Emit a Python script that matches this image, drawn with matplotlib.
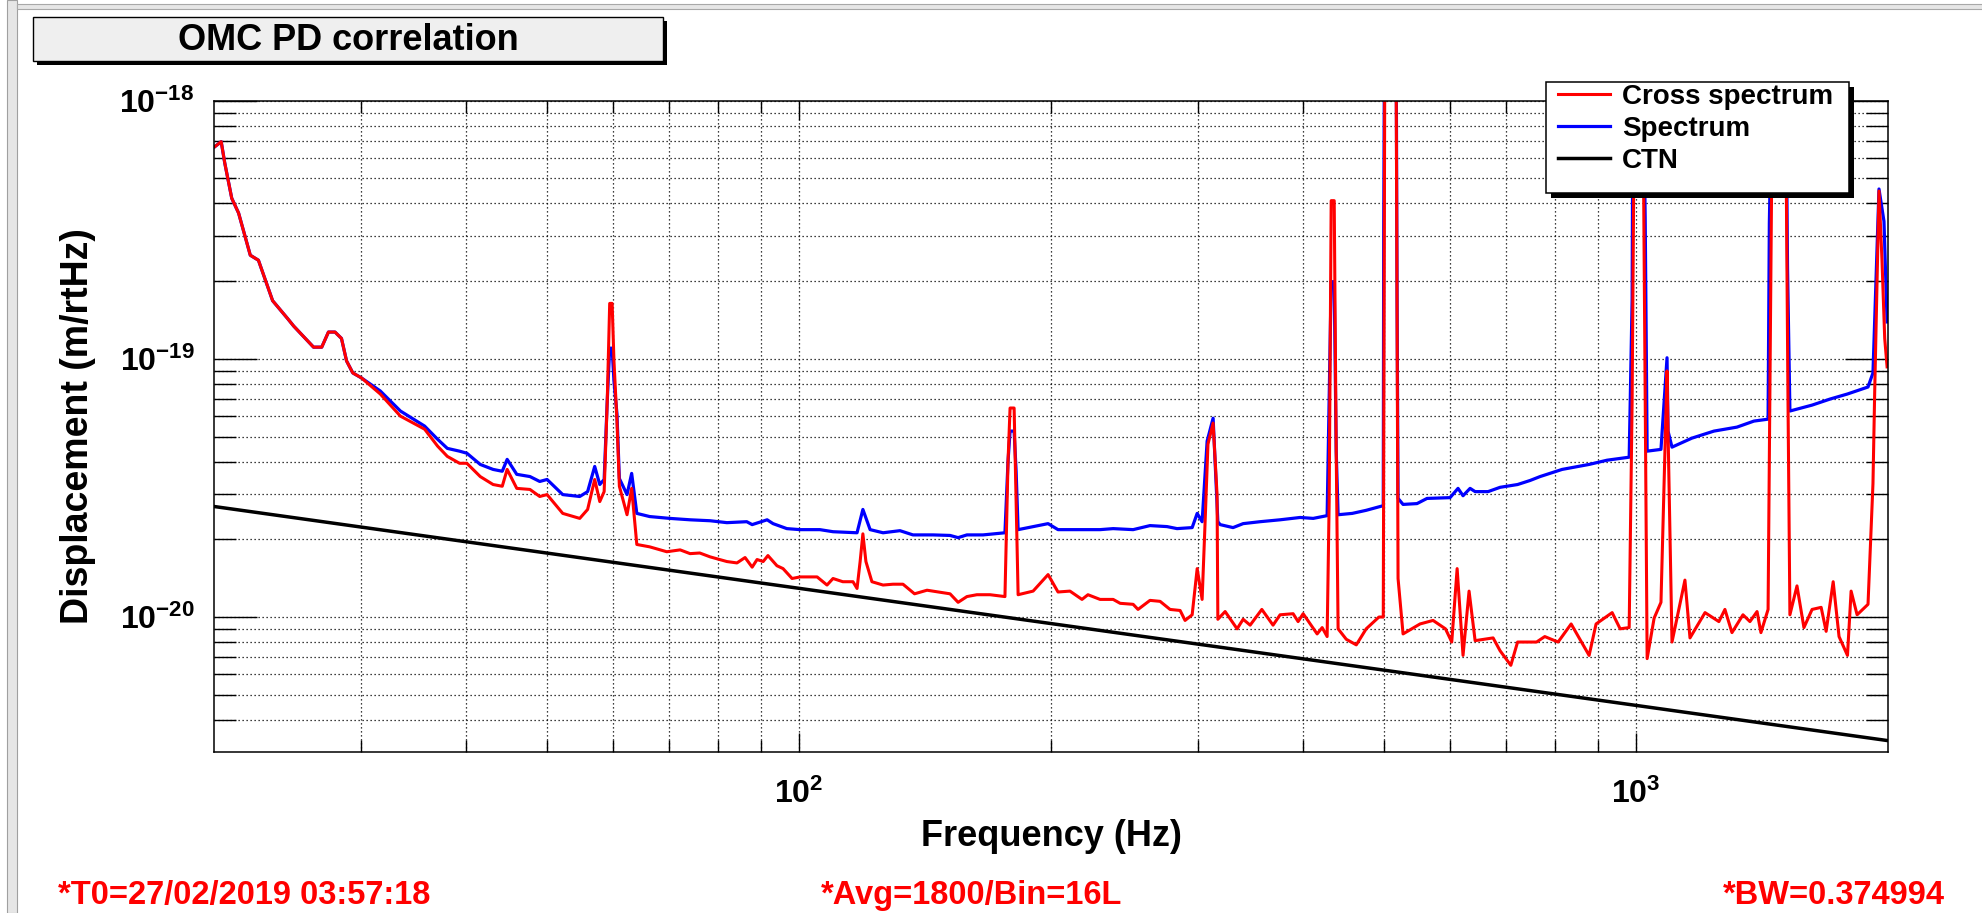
import matplotlib
matplotlib.use("Agg")
import matplotlib.pyplot as plt
import numpy as np
from matplotlib.patches import Rectangle
from matplotlib.ticker import FixedLocator, FuncFormatter, NullFormatter

plt.rcParams["font.family"] = ["Liberation Sans", "DejaVu Sans"]
plt.rcParams["font.weight"] = "bold"
plt.rcParams["mathtext.fontset"] = "custom"
plt.rcParams["mathtext.rm"] = "Liberation Sans:bold"
plt.rcParams["mathtext.bf"] = "Liberation Sans:bold"
plt.rcParams["mathtext.it"] = "Liberation Sans:bold:italic"

# frequencies in Hz, displacements in units of 1e-20 m/rtHz
cross_freq = [
    20.05, 20.4, 20.6, 21.0, 21.4, 22.1, 22.6, 23.5, 24.5, 24.9, 26.3, 26.9, 27.4, 27.9, 28.4, 28.8, 29.3, 30.0,
    31.6, 33.4, 35.7, 37.0, 38.0, 39.3, 40.1, 41.6, 43.1, 44.2, 44.8, 46.0, 47.7, 49.0, 50.0, 52.2, 54.7, 55.9, 57.0, 57.8, 58.5,
    59.0, 59.4, 59.8, 60.1, 60.6, 61.0, 62.3, 63.1, 64.0,
    66.3, 69.5, 72.1, 74.1, 76.1, 78.3, 82.0, 84.3, 86.2, 87.9, 89.1, 90.6, 91.8, 94.1, 95.7, 98.1, 100.3, 105.1, 108.0, 109.8, 112.8, 116.0, 117.3,
    118.3, 119.2, 120.2, 122.2, 126.0, 129.5, 133.1, 137.4, 142.2, 151.5, 154.9, 158.7, 163.1, 169.1, 176.2,
    177.7, 178.7, 180.7, 181.7, 182.7, 190.4, 198.4, 203.9, 210.7, 217.8, 221.4, 228.9, 237.3, 241.9, 250.7, 254.1, 262.6, 270.0, 277.5, 285.3, 289.2, 294.9,
    299.0, 303.1, 305.6, 308.0, 312.4, 315.8, 316.5, 322.9, 333.7, 339.3, 345.9, 357.2, 368.4, 375.6, 389.3, 394.7, 400.2, 415.9, 421.7, 427.5,
    429.9, 432.3, 435.9, 438.3, 440.6, 450.6, 463.2, 476.0, 493.0, 498.9, 501.0, 516.8, 519.6, 526.8,
    552.0, 572.1, 592.0, 602.3, 611.3, 621.3, 631.7, 642.3, 674.9, 688.0, 708.6, 721.9, 760.6, 778.0, 807.0, 836.5, 878.9, 895.9, 936.4, 957.2, 981.3,
    989.3, 994.8, 1019.8, 1025.5, 1031, 1051, 1071, 1089, 1092, 1104, 1144, 1160, 1209, 1256, 1277, 1302, 1342, 1368, 1395, 1410, 1438,
    1445, 1454, 1510, 1519, 1527, 1557, 1587, 1623, 1664, 1687, 1720, 1748, 1789, 1807, 1837, 1893, 1919, 1928, 1951, 1967, 1982, 1995,
]
cross_disp = [
    66.4, 69.4, 57.4, 41.9, 36.7, 25.2, 24.1, 16.8, 14.3, 13.4, 11.1, 11.1, 12.7, 12.7, 12.0, 9.82, 8.82, 8.44,
    7.31, 6.00, 5.34, 4.59, 4.19, 3.94, 3.94, 3.50, 3.26, 3.21, 3.73, 3.15, 3.12, 2.93, 2.98, 2.52, 2.41, 2.61, 3.41, 2.80, 3.06,
    6.87, 16.4, 16.4, 9.82, 5.74, 3.21, 2.49, 3.15, 1.91,
    1.87, 1.79, 1.82, 1.76, 1.77, 1.71, 1.64, 1.62, 1.70, 1.56, 1.67, 1.64, 1.73, 1.58, 1.54, 1.41, 1.43, 1.43, 1.33, 1.41, 1.37, 1.37, 1.29,
    1.64, 2.10, 1.64, 1.37, 1.33, 1.34, 1.34, 1.23, 1.27, 1.23, 1.14, 1.20, 1.22, 1.22, 1.20,
    4.01, 6.45, 6.45, 2.80, 1.22, 1.26, 1.46, 1.25, 1.26, 1.17, 1.22, 1.17, 1.17, 1.13, 1.12, 1.07, 1.16, 1.15, 1.07, 1.06, 0.97, 1.02,
    1.54, 1.17, 2.34, 4.67, 5.64, 2.98, 0.98, 1.05, 0.90, 0.98, 0.93, 1.07, 0.93, 1.02, 1.03, 0.96, 1.03, 0.86, 0.91, 0.84,
    2.80, 41.0, 41.0, 4.39, 0.90, 0.82, 0.78, 0.90, 1.00, 1.00, 150, 150, 1.41, 0.86,
    0.94, 0.97, 0.90, 0.80, 1.54, 0.71, 1.26, 0.81, 0.83, 0.74, 0.65, 0.80, 0.80, 0.84, 0.80, 0.94, 0.71, 0.94, 1.04, 0.90, 0.91,
    6.87, 80, 80, 6.87, 0.69, 0.99, 1.14, 8.98, 5.25, 0.80, 1.39, 0.83, 1.04, 0.96, 1.07, 0.87, 1.02, 0.96, 1.05, 0.87, 1.07,
    6.87, 80, 80, 6.87, 1.02, 1.32, 0.91, 1.07, 1.09, 0.88, 1.37, 0.84, 0.71, 1.26, 1.02, 1.12, 3.29, 7.38, 44.7, 24.3, 12.0, 9.31,
]

spec_freq = [
    20.05, 20.4, 20.6, 21.0, 21.4, 22.1, 22.6, 23.5, 24.5, 24.9, 26.3, 26.9, 27.4, 27.9, 28.4, 28.8, 29.3, 30.0,
    31.6, 33.4, 35.7, 37.0, 38.0, 39.3, 40.1, 41.6, 43.1, 44.2, 44.8, 46.0, 47.7, 49.0, 50.0, 52.2, 54.7, 55.9, 57.0, 57.8, 58.5,
    59.0, 59.4, 59.8, 60.1, 60.6, 61.0, 62.3, 63.1, 64.0,
    66.3, 70.1, 74.1, 78.3, 82.0, 86.6, 87.9, 91.6, 93.1, 96.7, 100.3, 105.9, 109.8, 117.3, 119.2, 121.6, 126.0, 132.0, 136.8, 144.6, 151.5, 154.9, 158.7, 165.9, 176.2,
    177.7, 178.7, 180.7, 181.7, 182.7, 198.4, 203.9, 228.9, 237.3, 250.7, 262.6, 275.2, 282.9, 294.9, 299.0, 303.1, 307.3, 312.4, 316.5, 318.5, 330.0, 339.3, 355.5, 375.6, 396.9, 411.4, 427.5,
    429.9, 432.3, 435.9, 438.3, 440.6, 458.1, 476.0, 490.7, 498.9, 499.5, 500.5, 517.0, 518.2, 519.6, 526.8, 547.4, 562.7, 599.5, 612.8, 621.3, 633.5, 642.3, 665.6, 688.0, 721.9, 747.2, 768.0, 815.9, 878.9, 923.5, 981.3,
    989.3, 991.0, 1022.0, 1025.5, 1031, 1071, 1089, 1092, 1104, 1166, 1239, 1320, 1383, 1438, 1443, 1450, 1512, 1517, 1527, 1623, 1706, 1789, 1893, 1919, 1951, 1978, 1995,
]
spec_disp = [
    66.4, 69.4, 57.4, 41.9, 36.7, 25.2, 24.1, 16.8, 14.3, 13.4, 11.1, 11.1, 12.7, 12.7, 12.0, 9.82, 8.82, 8.44,
    7.51, 6.28, 5.49, 4.88, 4.50, 4.39, 4.31, 3.90, 3.73, 3.67, 4.08, 3.57, 3.50, 3.35, 3.41, 2.98, 2.93, 3.06, 3.83, 3.26, 3.41,
    6.87, 11.0, 11.0, 8.21, 6.11, 3.44, 2.98, 3.60, 2.52,
    2.45, 2.41, 2.38, 2.36, 2.32, 2.34, 2.28, 2.38, 2.30, 2.20, 2.18, 2.18, 2.14, 2.12, 2.61, 2.18, 2.12, 2.16, 2.08, 2.08, 2.07, 2.03, 2.08, 2.08, 2.12,
    4.01, 5.25, 5.25, 3.67, 2.18, 2.30, 2.18, 2.18, 2.20, 2.18, 2.26, 2.24, 2.20, 2.22, 2.52, 2.34, 4.80, 5.89, 2.34, 2.28, 2.22, 2.30, 2.34, 2.38, 2.43, 2.41, 2.47,
    6.87, 19.9, 19.9, 4.39, 2.49, 2.52, 2.59, 2.66, 2.70, 32.3, 150, 150, 17.0, 2.88, 2.73, 2.75, 2.88, 2.90, 3.15, 2.95, 3.15, 3.06, 3.06, 3.18, 3.26, 3.38, 3.50, 3.73, 3.90, 4.05, 4.16,
    17.0, 80, 80, 35.0, 4.39, 4.46, 10.1, 5.25, 4.55, 4.93, 5.25, 5.44, 5.74, 5.84, 33.5, 80, 80, 22.6, 6.28, 6.62, 6.99, 7.31, 7.78, 8.82, 45.5, 34.1, 13.9,
]

ctn_freq = [20, 2000]
ctn_disp = [2.68e-20, 3.32e-21]

W, H = 1982, 913
fig = plt.figure(figsize=(W / 100, H / 100), dpi=100)
ax = fig.add_axes([214 / W, 1 - 752 / H, (1888 - 214) / W, (752 - 100.7) / H])

line_spec, = ax.plot(spec_freq, np.array(spec_disp) * 1e-20, color="#0000ff", lw=2.3)
line_cross, = ax.plot(cross_freq, np.array(cross_disp) * 1e-20, color="#ff0000", lw=2.2)
line_ctn, = ax.plot(ctn_freq, ctn_disp, color="black", lw=2.5)

ax.set_xscale("log")
ax.set_yscale("log")
ax.set_xlim(20, 2000)
ax.set_ylim(3e-21, 1e-18)

# only ticks inside the visible range
x_major = [100, 1000]
x_minor = [k * 10.0 ** e for e in (1, 2) for k in range(2, 10) if 20 < k * 10.0 ** e < 2000]
y_major = [1e-20, 1e-19, 1e-18]
y_minor = [k * 10.0 ** e for e in (-21, -20, -19) for k in range(2, 10) if 3.05e-21 < k * 10.0 ** e < 1e-18]

fmt = FuncFormatter(lambda v, p: r"$\mathbf{10^{%d}}$" % round(np.log10(v)))
ax.xaxis.set_major_locator(FixedLocator(x_major))
ax.xaxis.set_minor_locator(FixedLocator(x_minor))
ax.yaxis.set_major_locator(FixedLocator(y_major))
ax.yaxis.set_minor_locator(FixedLocator(y_minor))
for axis in (ax.xaxis, ax.yaxis):
    axis.set_major_formatter(fmt)
    axis.set_minor_formatter(NullFormatter())

ax.tick_params(which="both", direction="in", top=True, right=True, width=1.0, labelsize=23)
ax.tick_params(axis="y", which="major", length=31, pad=14)
ax.tick_params(axis="y", which="minor", length=16)
ax.tick_params(axis="x", which="major", length=14, pad=19)
ax.tick_params(axis="x", which="minor", length=8.5)
ax.grid(True, which="both", linestyle=(0, (1, 2.2)), linewidth=0.9, color="black")
for sp in ax.spines.values():
    sp.set_linewidth(1.1)

ax.set_xlabel("Frequency (Hz)", fontsize=26, fontweight="bold")
ax.set_ylabel("Displacement (m/rtHz)", fontsize=27, fontweight="bold")
ax.xaxis.set_label_coords(0.5, (752 - 836) / (752 - 100.7))
ax.xaxis.label.set_verticalalignment("center")
ax.yaxis.set_label_coords((78 - 214) / (1888 - 214), 0.5)
ax.yaxis.label.set_verticalalignment("center")

# window frame
fig.add_artist(Rectangle((7 / W, 0), 10 / W, 1, transform=fig.transFigure,
                         facecolor="#e6e6e6", edgecolor="#a0a0a0", lw=0.8))
fig.add_artist(Rectangle((17 / W, 1 - 9 / H), 1, 5 / H, transform=fig.transFigure,
                         facecolor="#e6e6e6", edgecolor="#a8a8a8", lw=0.8))

# title box
fig.add_artist(Rectangle((37 / W, 1 - 65 / H), 630 / W, 44 / H, transform=fig.transFigure,
                         facecolor="black", edgecolor="black", lw=0, zorder=2))
fig.add_artist(Rectangle((33 / W, 1 - 61 / H), 630 / W, 44 / H, transform=fig.transFigure,
                         facecolor="#efefef", edgecolor="black", lw=1.0, zorder=3))
fig.text(348 / W, 1 - 40 / H, "OMC PD correlation", fontsize=26, fontweight="bold",
         ha="center", va="center", zorder=4)

# legend box
fig.add_artist(Rectangle((1551 / W, 1 - 198 / H), 303 / W, 111 / H, transform=fig.transFigure,
                         facecolor="black", edgecolor="black", lw=0, zorder=2))
fig.add_artist(Rectangle((1546 / W, 1 - 193 / H), 303 / W, 111 / H, transform=fig.transFigure,
                         facecolor="white", edgecolor="black", lw=1.1, zorder=3))
fig.legend([line_cross, line_spec, line_ctn], ["Cross spectrum", "Spectrum", "CTN"],
           loc="upper left", bbox_to_anchor=(1558 / W, 1 - 84 / H), bbox_transform=fig.transFigure,
           frameon=False, borderpad=0, borderaxespad=0, handlelength=1.87, handletextpad=0.43,
           labelspacing=0.22, prop={"size": 20, "weight": "bold"})

# footer
fig.text(58 / W, 1 - 904 / H, "*T0=27/02/2019 03:57:18", color="#ff0000", fontsize=23.5,
         fontweight="bold", ha="left", va="baseline")
fig.text(972 / W, 1 - 904 / H, "*Avg=1800/Bin=16L", color="#ff0000", fontsize=23.5,
         fontweight="bold", ha="center", va="baseline")
fig.text(1945 / W, 1 - 904 / H, "*BW=0.374994", color="#ff0000", fontsize=23.5,
         fontweight="bold", ha="right", va="baseline")

fig.savefig("out.png", dpi=100)
